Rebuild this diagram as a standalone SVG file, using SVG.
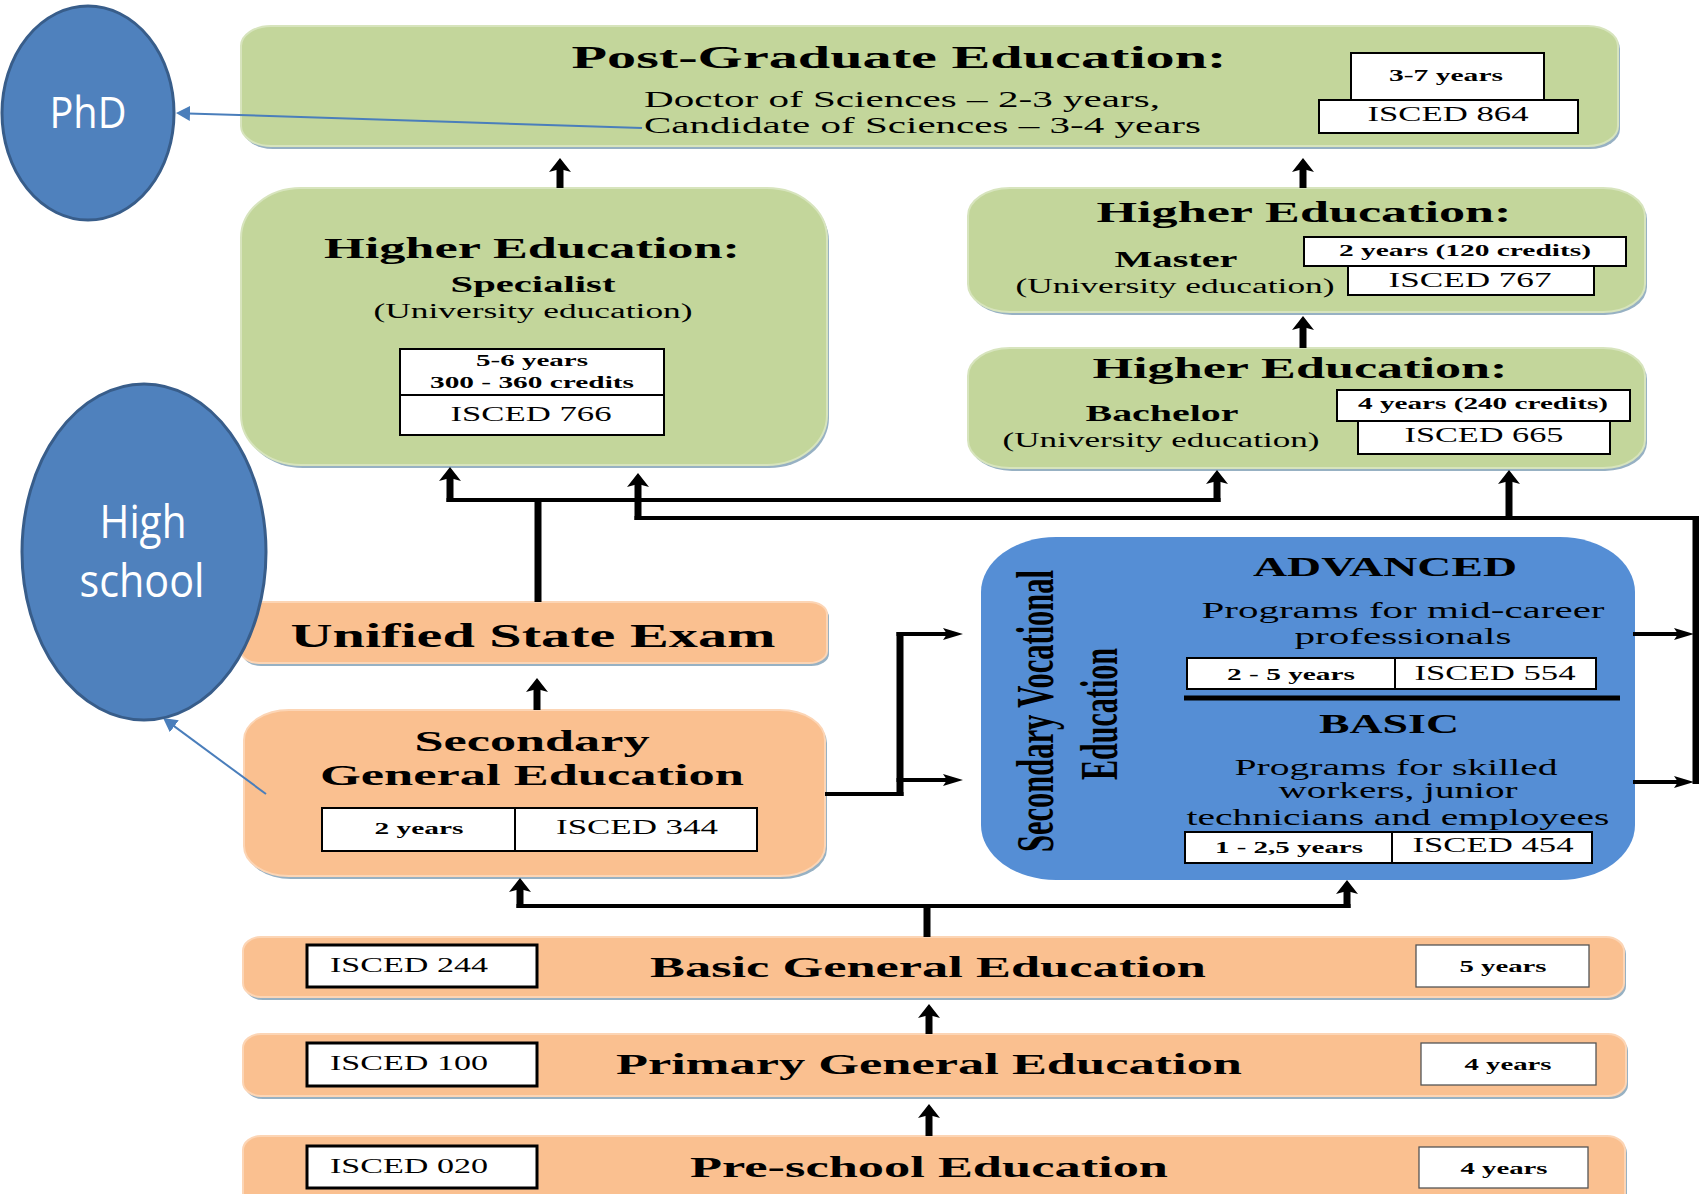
<svg xmlns="http://www.w3.org/2000/svg" width="1699" height="1194" viewBox="0 0 1699 1194">
  <style>
    .green { fill: #c3d69b; stroke: #d7e4bd; stroke-width: 2; }
    .orange { fill: #fac090; stroke: #fcd5b5; stroke-width: 2; }
    .sve { fill: #558ed5; }
    .shadow { fill: #97b1c3; }
    .tag { fill: #ffffff; stroke: #000000; stroke-width: 2; }
    .tag3 { fill: #ffffff; stroke: #000000; stroke-width: 3; }
    .tagThin { fill: #ffffff; stroke: #555555; stroke-width: 1.3; }
    text { font-family: "Liberation Serif", "Times New Roman", serif; fill: #000000; }
    .b { font-weight: bold; }
    .c { text-anchor: middle; }
    .oval { fill: #4f81bd; stroke: #385d8a; stroke-width: 3; }
    .ovalText { font-family: "Open Sans", "Liberation Sans", sans-serif; fill: #ffffff; text-anchor: middle; }
    .v { stroke: #000000; stroke-width: 7; fill: none; }
    .h { stroke: #000000; stroke-width: 4; fill: none; }
    .link { stroke: #4a7ebb; stroke-width: 2; fill: none; }
  </style>
  <defs>
    <marker id="headV" markerUnits="userSpaceOnUse" viewBox="0 0 14 22" markerWidth="14" markerHeight="22" refX="6" refY="11" orient="auto">
      <path d="M0,0 L14,11 L0,22 L3,11 Z" fill="#000"/>
    </marker>
    <marker id="headH" markerUnits="userSpaceOnUse" viewBox="0 0 20 12" markerWidth="20" markerHeight="12" refX="8" refY="6" orient="auto">
      <path d="M0,0 L20,6 L0,12 L4,6 Z" fill="#000"/>
    </marker>
    <marker id="headB" markerUnits="userSpaceOnUse" viewBox="0 0 14 15" markerWidth="14" markerHeight="15" refX="2" refY="7.5" orient="auto">
      <path d="M0,0 L14,7.5 L0,15 Z" fill="#4a7ebb"/>
    </marker>
  </defs>

  <rect width="1699" height="1194" fill="#ffffff"/>

  <!-- Post-graduate level -->
  <g id="postgraduate">
    <rect class="shadow" x="243" y="29" width="1377" height="120" rx="30" ry="20"/>
    <rect class="green" x="241" y="26" width="1377" height="120" rx="30" ry="20"/>
    <text class="b c" x="899" y="68" font-size="32" textLength="655" lengthAdjust="spacingAndGlyphs">Post-Graduate Education:</text>
    <text x="644" y="107" font-size="23" textLength="516" lengthAdjust="spacingAndGlyphs">Doctor of Sciences – 2-3 years,</text>
    <text x="644" y="133" font-size="23" textLength="557" lengthAdjust="spacingAndGlyphs">Candidate of Sciences – 3-4 years</text>
    <rect class="tag" x="1351" y="53" width="193" height="47"/>
    <text class="b c" x="1446" y="81" font-size="17" textLength="114" lengthAdjust="spacingAndGlyphs">3-7 years</text>
    <rect class="tag" x="1319" y="100" width="259" height="33"/>
    <text class="c" x="1448" y="121" font-size="21" textLength="161" lengthAdjust="spacingAndGlyphs">ISCED 864</text>
  </g>

  <!-- Higher education: specialist -->
  <g id="specialist">
    <rect class="shadow" x="243" y="191" width="586" height="277" rx="60" ry="50"/>
    <rect class="green" x="241" y="188" width="586" height="277" rx="60" ry="50"/>
    <text class="b c" x="532" y="258" font-size="30" textLength="416" lengthAdjust="spacingAndGlyphs">Higher Education:</text>
    <text class="b c" x="533" y="292" font-size="23" textLength="165" lengthAdjust="spacingAndGlyphs">Specialist</text>
    <text class="c" x="533" y="318" font-size="20" textLength="319" lengthAdjust="spacingAndGlyphs">(University education)</text>
    <rect class="tag" x="400" y="349" width="264" height="46"/>
    <rect class="tag" x="400" y="395" width="264" height="40"/>
    <text class="b c" x="532" y="366" font-size="16" textLength="112" lengthAdjust="spacingAndGlyphs">5-6 years</text>
    <text class="b c" x="532" y="388" font-size="16" textLength="204" lengthAdjust="spacingAndGlyphs">300 - 360 credits</text>
    <text class="c" x="531" y="421" font-size="21" textLength="161" lengthAdjust="spacingAndGlyphs">ISCED 766</text>
  </g>

  <!-- Higher education: master -->
  <g id="master">
    <rect class="shadow" x="970" y="191" width="677" height="124" rx="42" ry="28"/>
    <rect class="green" x="968" y="188" width="677" height="124" rx="42" ry="28"/>
    <text class="b c" x="1304" y="222" font-size="30" textLength="415" lengthAdjust="spacingAndGlyphs">Higher Education:</text>
    <text class="b c" x="1176" y="267" font-size="24" textLength="123" lengthAdjust="spacingAndGlyphs">Master</text>
    <text class="c" x="1175" y="293" font-size="20" textLength="319" lengthAdjust="spacingAndGlyphs">(University education)</text>
    <rect class="tag" x="1304" y="237" width="322" height="29"/>
    <text class="b c" x="1465" y="256" font-size="16" textLength="252" lengthAdjust="spacingAndGlyphs">2 years (120 credits)</text>
    <rect class="tag" x="1348" y="266" width="246" height="29"/>
    <text class="c" x="1470" y="287" font-size="21" textLength="163" lengthAdjust="spacingAndGlyphs">ISCED 767</text>
  </g>

  <!-- Higher education: bachelor -->
  <g id="bachelor">
    <rect class="shadow" x="970" y="351" width="677" height="120" rx="42" ry="28"/>
    <rect class="green" x="968" y="348" width="677" height="120" rx="42" ry="28"/>
    <text class="b c" x="1300" y="378" font-size="30" textLength="415" lengthAdjust="spacingAndGlyphs">Higher Education:</text>
    <text class="b c" x="1162" y="421" font-size="24" textLength="153" lengthAdjust="spacingAndGlyphs">Bachelor</text>
    <text class="c" x="1161" y="447" font-size="20" textLength="317" lengthAdjust="spacingAndGlyphs">(University education)</text>
    <rect class="tag" x="1337" y="390" width="293" height="31"/>
    <text class="b c" x="1483" y="409" font-size="16" textLength="250" lengthAdjust="spacingAndGlyphs">4 years (240 credits)</text>
    <rect class="tag" x="1358" y="421" width="252" height="33"/>
    <text class="c" x="1484" y="442" font-size="21" textLength="159" lengthAdjust="spacingAndGlyphs">ISCED 665</text>
  </g>

  <!-- Unified State Exam -->
  <g id="exam">
    <rect class="shadow" x="243" y="605" width="586" height="61" rx="18" ry="12"/>
    <rect class="orange" x="241" y="602" width="586" height="61" rx="18" ry="12"/>
    <text class="b c" x="533" y="647" font-size="33" textLength="485" lengthAdjust="spacingAndGlyphs">Unified State Exam</text>
  </g>

  <!-- Secondary general education -->
  <g id="secondary-general">
    <rect class="shadow" x="246" y="713" width="581" height="166" rx="45" ry="30"/>
    <rect class="orange" x="244" y="710" width="581" height="166" rx="45" ry="30"/>
    <text class="b c" x="532" y="751" font-size="30" textLength="235" lengthAdjust="spacingAndGlyphs">Secondary</text>
    <text class="b c" x="532" y="785" font-size="30" textLength="424" lengthAdjust="spacingAndGlyphs">General Education</text>
    <rect class="tag" x="322" y="808" width="193" height="43"/>
    <rect class="tag" x="515" y="808" width="242" height="43"/>
    <text class="b c" x="419" y="834" font-size="17" textLength="89" lengthAdjust="spacingAndGlyphs">2 years</text>
    <text class="c" x="637" y="834" font-size="21" textLength="162" lengthAdjust="spacingAndGlyphs">ISCED 344</text>
  </g>

  <!-- Secondary vocational education -->
  <g id="secondary-vocational">
    <rect class="sve" x="981" y="537" width="654" height="343" rx="75" ry="55"/>
    <text class="b c" font-size="30" textLength="282" lengthAdjust="spacingAndGlyphs" transform="translate(1053,711) rotate(-90) scale(1,1.76)">Secondary Vocational</text>
    <text class="b c" font-size="30" textLength="132" lengthAdjust="spacingAndGlyphs" transform="translate(1117,714) rotate(-90) scale(1,1.76)">Education</text>
    <text class="b c" x="1385" y="576" font-size="27" textLength="264" lengthAdjust="spacingAndGlyphs">ADVANCED</text>
    <text class="c" x="1403" y="618" font-size="23" textLength="403" lengthAdjust="spacingAndGlyphs">Programs for mid-career</text>
    <text class="c" x="1403" y="644" font-size="23" textLength="217" lengthAdjust="spacingAndGlyphs">professionals</text>
    <rect class="tag" x="1187" y="658" width="208" height="31"/>
    <rect class="tag" x="1395" y="658" width="201" height="31"/>
    <text class="b c" x="1291" y="680" font-size="17" textLength="128" lengthAdjust="spacingAndGlyphs">2 - 5 years</text>
    <text class="c" x="1495" y="680" font-size="21" textLength="161" lengthAdjust="spacingAndGlyphs">ISCED 554</text>
    <line x1="1184" y1="698" x2="1620" y2="698" stroke="#000" stroke-width="5"/>
    <text class="b c" x="1389" y="733" font-size="27" textLength="140" lengthAdjust="spacingAndGlyphs">BASIC</text>
    <text class="c" x="1396" y="775" font-size="23" textLength="323" lengthAdjust="spacingAndGlyphs">Programs for skilled</text>
    <text class="c" x="1398" y="798" font-size="23" textLength="239" lengthAdjust="spacingAndGlyphs">workers, junior</text>
    <text class="c" x="1398" y="825" font-size="23" textLength="423" lengthAdjust="spacingAndGlyphs">technicians and employees</text>
    <rect class="tag" x="1185" y="832" width="207" height="31"/>
    <rect class="tag" x="1392" y="832" width="200" height="31"/>
    <text class="b c" x="1289" y="853" font-size="17" textLength="148" lengthAdjust="spacingAndGlyphs">1 - 2,5 years</text>
    <text class="c" x="1493" y="852" font-size="21" textLength="161" lengthAdjust="spacingAndGlyphs">ISCED 454</text>
  </g>

  <!-- Basic general education -->
  <g id="basic-general">
    <rect class="shadow" x="245" y="940" width="1381" height="60" rx="18" ry="14"/>
    <rect class="orange" x="243" y="937" width="1381" height="60" rx="18" ry="14"/>
    <rect class="tag3" x="307" y="945" width="230" height="42"/>
    <text class="c" x="409" y="972" font-size="20" textLength="158" lengthAdjust="spacingAndGlyphs">ISCED 244</text>
    <text class="b c" x="928" y="977" font-size="29" textLength="556" lengthAdjust="spacingAndGlyphs">Basic General Education</text>
    <rect class="tagThin" x="1416" y="945" width="173" height="42"/>
    <text class="b c" x="1503" y="972" font-size="16" textLength="87" lengthAdjust="spacingAndGlyphs">5 years</text>
  </g>

  <!-- Primary general education -->
  <g id="primary-general">
    <rect class="shadow" x="245" y="1037" width="1383" height="62" rx="18" ry="14"/>
    <rect class="orange" x="243" y="1034" width="1383" height="62" rx="18" ry="14"/>
    <rect class="tag3" x="307" y="1043" width="230" height="43"/>
    <text class="c" x="409" y="1070" font-size="20" textLength="158" lengthAdjust="spacingAndGlyphs">ISCED 100</text>
    <text class="b c" x="929" y="1074" font-size="29" textLength="626" lengthAdjust="spacingAndGlyphs">Primary General Education</text>
    <rect class="tagThin" x="1421" y="1043" width="175" height="42"/>
    <text class="b c" x="1508" y="1070" font-size="16" textLength="87" lengthAdjust="spacingAndGlyphs">4 years</text>
  </g>

  <!-- Pre-school education -->
  <g id="preschool">
    <rect class="shadow" x="245" y="1139" width="1382" height="80" rx="18" ry="14"/>
    <rect class="orange" x="243" y="1136" width="1382" height="80" rx="18" ry="14"/>
    <rect class="tag3" x="307" y="1146" width="230" height="42"/>
    <text class="c" x="409" y="1173" font-size="20" textLength="158" lengthAdjust="spacingAndGlyphs">ISCED 020</text>
    <text class="b c" x="929" y="1177" font-size="29" textLength="478" lengthAdjust="spacingAndGlyphs">Pre-school Education</text>
    <rect class="tagThin" x="1419" y="1147" width="169" height="41"/>
    <text class="b c" x="1504" y="1174" font-size="16" textLength="87" lengthAdjust="spacingAndGlyphs">4 years</text>
  </g>

  <!-- Connectors -->
  <g id="connectors">
    <line class="v" x1="560" y1="188" x2="560" y2="166" marker-end="url(#headV)"/>
    <line class="v" x1="1303" y1="188" x2="1303" y2="166" marker-end="url(#headV)"/>
    <line class="v" x1="1303" y1="348" x2="1303" y2="324" marker-end="url(#headV)"/>
    <line class="v" x1="537" y1="710" x2="537" y2="686" marker-end="url(#headV)"/>
    <line class="v" x1="929" y1="1034" x2="929" y2="1012" marker-end="url(#headV)"/>
    <line class="v" x1="929" y1="1136" x2="929" y2="1112" marker-end="url(#headV)"/>

    <!-- exam results lead to specialist and bachelor programmes -->
    <line class="v" x1="538" y1="602" x2="538" y2="498" stroke-width="8"/>
    <line class="h" x1="446.5" y1="500" x2="1220.5" y2="500"/>
    <line class="v" x1="450" y1="502" x2="450" y2="475" marker-end="url(#headV)"/>
    <line class="v" x1="1217" y1="502" x2="1217" y2="478" marker-end="url(#headV)"/>

    <!-- vocational graduates route -->
    <line class="h" x1="634.5" y1="518" x2="1699" y2="518"/>
    <line class="v" x1="638" y1="520" x2="638" y2="481" marker-end="url(#headV)"/>
    <line class="v" x1="1509" y1="520" x2="1509" y2="478" marker-end="url(#headV)"/>
    <line class="v" x1="1696" y1="516" x2="1696" y2="784" stroke-width="6"/>
    <line class="h" x1="1633" y1="634" x2="1682" y2="634" marker-end="url(#headH)"/>
    <line class="h" x1="1633" y1="782" x2="1682" y2="782" marker-end="url(#headH)"/>

    <!-- secondary general to vocational -->
    <line class="h" x1="825" y1="794" x2="903.5" y2="794"/>
    <line class="v" x1="900" y1="796" x2="900" y2="632"/>
    <line class="h" x1="896.5" y1="634" x2="951" y2="634" marker-end="url(#headH)"/>
    <line class="h" x1="896.5" y1="780" x2="951" y2="780" marker-end="url(#headH)"/>

    <!-- basic general splits into two tracks -->
    <line class="v" x1="927" y1="937" x2="927" y2="904" stroke-width="8"/>
    <line class="h" x1="516.5" y1="906" x2="1350.5" y2="906"/>
    <line class="v" x1="520" y1="908" x2="520" y2="886" marker-end="url(#headV)"/>
    <line class="v" x1="1347" y1="908" x2="1347" y2="888" marker-end="url(#headV)"/>

    <!-- callout links -->
    <line class="link" x1="642" y1="128" x2="188" y2="113.4" marker-end="url(#headB)"/>
    <line class="link" x1="266" y1="794" x2="172.7" y2="725.1" marker-end="url(#headB)"/>
  </g>

  <!-- Callout ovals -->
  <g id="phd">
    <ellipse class="oval" cx="88" cy="113" rx="86" ry="107"/>
    <text class="ovalText" x="88" y="128" font-size="44" textLength="77" lengthAdjust="spacingAndGlyphs">PhD</text>
  </g>
  <g id="high-school">
    <ellipse class="oval" cx="144" cy="552" rx="122" ry="168"/>
    <text class="ovalText" x="143" y="538" font-size="46" textLength="87" lengthAdjust="spacingAndGlyphs">High</text>
    <text class="ovalText" x="142" y="597" font-size="46" textLength="125" lengthAdjust="spacingAndGlyphs">school</text>
  </g>
</svg>
